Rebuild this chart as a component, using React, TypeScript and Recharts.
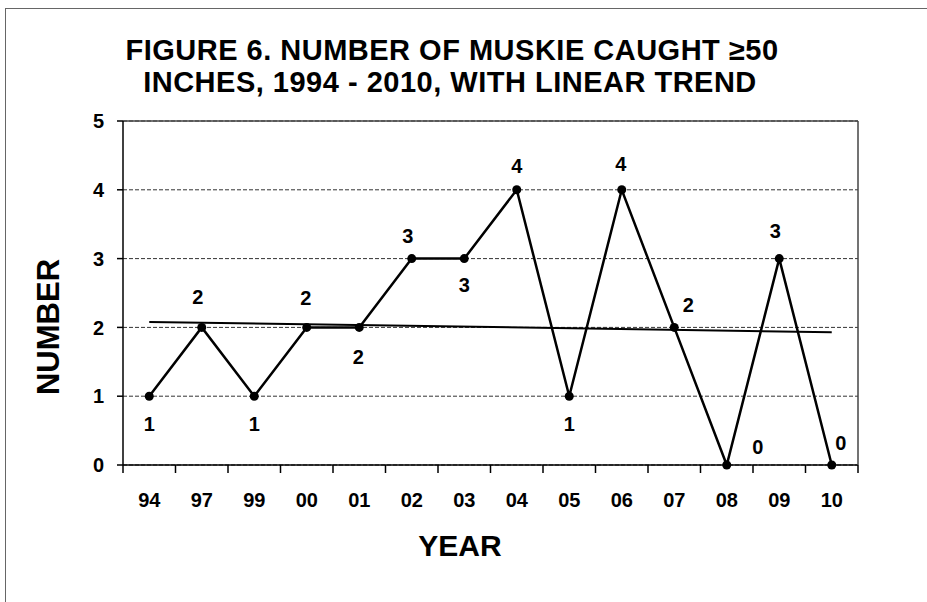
import React from "react"
import { LineChart, Line, XAxis, YAxis, CartesianGrid, ReferenceLine } from "recharts"

const years = ["94", "97", "99", "00", "01", "02", "03", "04", "05", "06", "07", "08", "09", "10"]
const caught = [1, 2, 1, 2, 2, 3, 3, 4, 1, 4, 2, 0, 3, 0]
// linear trend, read at first and last year
const trendEnds = [2.08, 1.93]
const yTicks = [0, 1, 2, 3, 4, 5]

const titleLines = ["FIGURE 6. NUMBER OF MUSKIE CAUGHT ≥50", "INCHES, 1994 - 2010, WITH LINEAR TREND"]

const W = 927
const H = 602
const MARGIN = { top: 121, right: 68, bottom: 0, left: 0 }
const Y_AXIS_W = 123
const RIGHT_AXIS_W = 1
const X_AXIS_H = 137
const PLOT_W = W - MARGIN.right - RIGHT_AXIS_W - Y_AXIS_W
const HALF_BAND = PLOT_W / years.length / 2
const FONT = "'Liberation Sans', Arial, sans-serif"

// where each value label sits relative to its point (dx, dy)
const labelOffsets = [
  [0, 28], [-4, -30], [0, 28], [-1, -29], [-1, 30], [-4, -23], [0, 26],
  [0, -24], [0, 28], [-1, -26], [14, -22], [31, -18], [-4, -28], [9, -22],
]

const data = years.map((year, i) => ({
  year,
  caught: caught[i],
  trend: i === 0 ? trendEnds[0] : i === years.length - 1 ? trendEnds[1] : null,
}))

function YearTick(props: any) {
  const { x, y, payload, index } = props
  return (
    <g>
      {index === 0 && (
        <line x1={x - HALF_BAND} x2={x - HALF_BAND} y1={y} y2={y + 8} stroke="#000" strokeWidth={1.5} />
      )}
      <line x1={x + HALF_BAND} x2={x + HALF_BAND} y1={y} y2={y + 8} stroke="#000" strokeWidth={1.5} />
      <text x={x} y={y + 42} textAnchor="middle" fontFamily={FONT} fontWeight="bold" fontSize={20} fill="#000">
        {payload.value}
      </text>
    </g>
  )
}

function ValueLabel(props: any) {
  const { x, y, value, index } = props
  const [dx, dy] = labelOffsets[index] || [0, -25]
  return (
    <text
      x={x + dx}
      y={y + dy}
      textAnchor="middle"
      dominantBaseline="central"
      fontFamily={FONT}
      fontWeight="bold"
      fontSize={20}
      fill="#000"
    >
      {value}
    </text>
  )
}

const centered: React.CSSProperties = {
  position: "absolute",
  transform: "translate(-50%, -50%)",
  whiteSpace: "nowrap",
  fontFamily: FONT,
  fontWeight: "bold",
  color: "#000",
  lineHeight: 1,
}

export default function App() {
  return (
    <div style={{ position: "fixed", left: 0, top: 0, width: W, height: H, overflow: "hidden", background: "#fff" }}>
      <div
        style={{
          position: "absolute",
          left: 5,
          top: 8,
          width: 960,
          height: 640,
          border: "1.5px solid #666",
        }}
      />
      <LineChart width={W} height={H} data={data} margin={MARGIN}>
        <CartesianGrid vertical={false} stroke="#333" strokeDasharray="4 2" />
        <ReferenceLine y={5} stroke="#444" strokeWidth={1.5} />
        <XAxis
          dataKey="year"
          height={X_AXIS_H}
          padding={{ left: HALF_BAND, right: HALF_BAND }}
          axisLine={{ stroke: "#000", strokeWidth: 1.5 }}
          tickLine={false}
          tickSize={0}
          tickMargin={0}
          interval={0}
          tick={<YearTick />}
        />
        <YAxis
          width={Y_AXIS_W}
          domain={[0, 5]}
          ticks={yTicks}
          interval={0}
          tickSize={6}
          tickMargin={13}
          axisLine={{ stroke: "#000", strokeWidth: 1.5 }}
          tickLine={{ stroke: "#000", strokeWidth: 1.5 }}
          tick={{ fontFamily: FONT, fontWeight: "bold", fontSize: 20, fill: "#000" }}
        />
        <YAxis
          yAxisId="right"
          orientation="right"
          width={RIGHT_AXIS_W}
          domain={[0, 5]}
          ticks={yTicks}
          tick={false}
          tickLine={false}
          axisLine={{ stroke: "#444", strokeWidth: 1.5 }}
        />
        <Line
          yAxisId="right"
          dataKey="trend"
          stroke="#000"
          strokeWidth={2}
          dot={false}
          connectNulls
          isAnimationActive={false}
        />
        <Line
          dataKey="caught"
          stroke="#000"
          strokeWidth={2.5}
          dot={{ r: 4.5, fill: "#000", stroke: "#000", strokeWidth: 0 }}
          label={<ValueLabel />}
          isAnimationActive={false}
        />
      </LineChart>
      <div style={{ ...centered, left: 452, top: 50, fontSize: 29, letterSpacing: 0.5 }}>{titleLines[0]}</div>
      <div style={{ ...centered, left: 450, top: 82, fontSize: 29, letterSpacing: 0.5 }}>{titleLines[1]}</div>
      <div style={{ ...centered, left: 48, top: 327, fontSize: 31, transform: "translate(-50%, -50%) rotate(-90deg)" }}>
        NUMBER
      </div>
      <div style={{ ...centered, left: 460, top: 546, fontSize: 30 }}>YEAR</div>
    </div>
  )
}
